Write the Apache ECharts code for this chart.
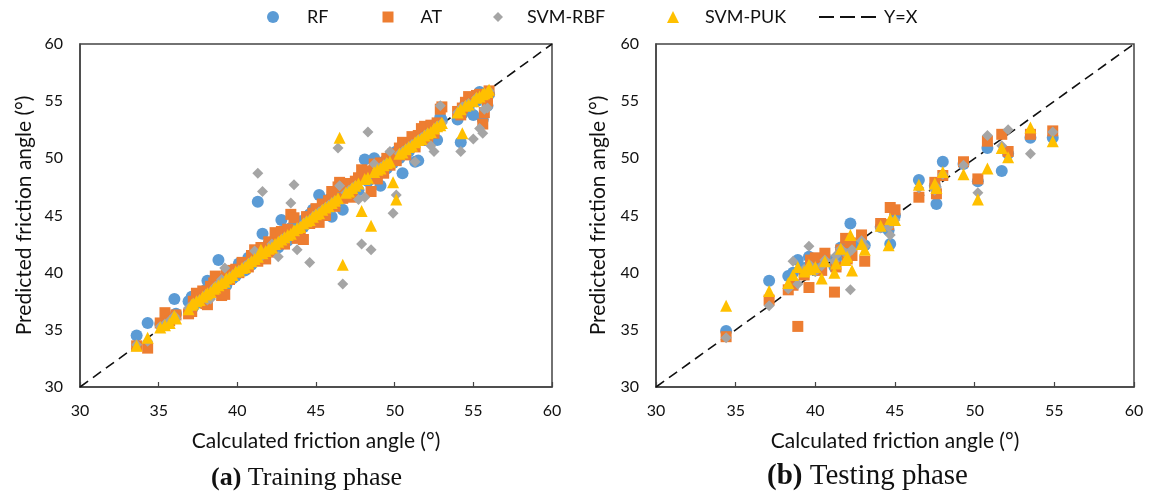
<!DOCTYPE html>
<html>
<head>
<meta charset="utf-8">
<script src="https://cdn.jsdelivr.net/npm/echarts@6/dist/echarts.min.js"></script>
<style>
html,body{margin:0;padding:0;background:#fff;}
#chart{width:1153px;height:497px;}
</style>
</head>
<body>
<div id="chart"></div>
<script>
// ---------- DATA ----------
const seriesNames = ['RF', 'AT', 'SVM-RBF', 'SVM-PUK', 'Y=X'];
const tickLabels = [30, 35, 40, 45, 50, 55, 60];

// Training phase: calculated angle (x) and predictions (y)
const trainCalc = [
 33.6, 34.3, 35.1, 35.4, 35.7, 36.0, 36.1, 36.9, 37.1, 37.2,
 37.4, 37.6, 37.8, 38.0, 38.1, 38.3, 38.5, 38.6, 38.8, 39.0,
 39.2, 39.3, 39.5, 39.7, 39.9, 40.1, 40.3, 40.5, 40.7, 40.9,
 41.1, 41.3, 41.5, 41.6, 41.8, 42.0, 42.2, 42.4, 42.6, 42.8,
 43.0, 43.2, 43.4, 43.6, 43.8, 44.0, 44.2, 44.4, 44.6, 44.8,
 45.0, 45.2, 45.4, 45.6, 45.8, 46.0, 46.2, 46.4, 46.5, 46.7,
 46.9, 47.1, 47.3, 47.5, 47.7, 47.9, 48.1, 48.3, 48.5, 48.7,
 48.9, 49.1, 49.3, 49.5, 49.7, 49.9, 50.1, 50.3, 50.5, 50.7,
 50.9, 51.1, 51.3, 51.5, 51.7, 51.9, 52.1, 52.3, 52.5, 52.7,
 52.9, 53.0, 54.0, 54.2, 54.3, 54.5, 54.7, 55.0, 55.2, 55.4,
 55.6, 55.7, 55.9, 56.0];
const trainRF = [
 34.5, 35.6, 35.5, 35.7, 35.9, 37.7, 36.4, 37.5, 37.9, 37.0,
 37.8, 37.4, 38.2, 38.5, 39.3, 38.6, 38.3, 39.0, 41.1, 39.4,
 39.6, 38.9, 40.0, 39.5, 39.7, 40.8, 40.6, 40.2, 41.3, 40.7,
 41.5, 46.2, 41.9, 43.4, 42.1, 42.6, 41.9, 42.8, 42.2, 44.6,
 43.4, 42.8, 43.9, 43.3, 44.2, 44.5, 44.0, 44.9, 45.1, 45.5,
 44.7, 46.8, 45.2, 46.0, 46.4, 44.9, 46.6, 46.9, 47.0, 45.5,
 47.4, 46.8, 47.6, 47.2, 47.2, 48.4, 49.9, 48.0, 48.9, 50.0,
 48.5, 47.6, 49.7, 49.1, 50.2, 49.6, 50.6, 50.0, 48.7, 51.1,
 50.6, 51.5, 49.7, 49.8, 52.0, 51.6, 52.4, 52.0, 52.9, 51.6,
 53.6, 53.3, 53.4, 51.4, 53.9, 54.8, 54.4, 53.8, 55.0, 55.8,
 53.4, 55.4, 54.6, 55.6];
const trainAT = [
 33.6, 33.4, 35.6, 36.5, 35.8, 36.0, 36.3, 36.4, 36.6, 37.5,
 38.2, 37.9, 38.4, 37.3, 37.2, 38.8, 39.1, 39.7, 38.3, 38.0,
 38.1, 39.8, 39.4, 40.2, 40.3, 40.0, 40.9, 40.4, 40.5, 41.5,
 42.0, 41.0, 42.2, 41.3, 41.2, 42.7, 41.8, 43.5, 42.6, 43.6,
 42.5, 43.8, 45.1, 44.8, 43.0, 43.3, 42.9, 44.9, 44.3, 45.2,
 45.6, 44.4, 46.0, 45.0, 46.3, 47.1, 45.8, 47.5, 47.9, 46.5,
 47.6, 47.8, 46.6, 48.0, 48.3, 49.0, 48.5, 48.9, 47.1, 49.5,
 48.2, 49.6, 48.7, 50.0, 49.4, 50.4, 49.8, 50.9, 51.4, 50.3,
 51.3, 51.9, 51.0, 52.0, 52.6, 52.8, 51.6, 52.9, 52.2, 53.1,
 54.3, 54.5, 54.1, 53.8, 54.4, 54.9, 55.4, 55.3, 55.5, 55.6,
 53.0, 54.0, 55.0, 55.9];
const trainRBF = [
 33.7, 34.0, 35.3, 35.5, 35.8, 36.2, 36.0, 36.9, 37.0, 37.3,
 37.4, 37.6, 37.7, 38.1, 37.6, 37.7, 38.6, 38.8, 39.0, 39.4,
 40.4, 39.2, 39.6, 39.8, 40.0, 40.2, 40.1, 40.6, 40.8, 41.0,
 41.9, 48.7, 41.4, 47.1, 41.8, 42.0, 42.5, 42.3, 41.4, 42.9,
 43.1, 43.0, 46.1, 47.7, 42.0, 44.0, 44.3, 44.5, 40.9, 44.9,
 45.1, 45.3, 45.5, 45.7, 45.9, 46.1, 46.3, 50.9, 47.6, 39.0,
 47.0, 47.2, 47.4, 47.6, 46.4, 42.5, 46.6, 52.3, 42.0, 49.5,
 49.0, 49.2, 49.4, 49.6, 50.6, 45.2, 46.8, 50.4, 50.6, 50.8,
 51.0, 51.2, 49.7, 51.6, 51.8, 52.0, 52.2, 51.1, 50.6, 52.8,
 54.6, 53.1, 54.0, 50.6, 54.5, 54.6, 54.8, 51.7, 55.3, 52.6,
 52.2, 54.3, 54.4, 55.9];
const trainPUK = [
 33.6, 34.3, 35.2, 35.4, 35.6, 36.2, 36.0, 36.8, 37.2, 37.3,
 37.5, 37.6, 37.9, 38.1, 38.2, 38.3, 38.6, 38.7, 38.9, 39.1,
 39.2, 39.5, 39.6, 39.8, 40.1, 40.2, 40.4, 40.5, 40.8, 41.0,
 41.2, 41.4, 42.0, 41.7, 41.9, 42.1, 42.2, 42.5, 42.7, 42.9,
 43.1, 43.3, 43.4, 43.7, 43.9, 44.0, 44.3, 44.5, 44.6, 44.9,
 45.1, 45.2, 45.5, 45.7, 45.8, 46.1, 46.3, 46.5, 51.8, 40.7,
 47.0, 47.1, 47.4, 47.6, 47.8, 45.4, 48.2, 48.3, 44.1, 48.8,
 49.0, 49.1, 49.4, 49.6, 49.7, 47.9, 46.4, 50.4, 50.5, 50.8,
 51.0, 51.1, 51.4, 51.6, 51.7, 52.0, 52.2, 52.3, 52.6, 52.8,
 52.9, 53.1, 54.0, 54.3, 52.2, 54.6, 54.7, 55.0, 55.3, 55.4,
 55.6, 55.7, 55.8, 56.0];

// Testing phase
const testCalc = [34.4, 37.1, 38.3, 38.6, 38.9, 39.3, 39.6, 39.7, 40.0, 40.4, 40.6, 41.2, 41.3, 41.6, 41.9, 42.0, 42.2, 42.3, 42.9, 43.1, 44.1, 44.6, 44.7, 45.0, 46.5, 47.5, 47.6, 48.0, 49.3, 50.2, 50.8, 51.7, 52.1, 53.5, 54.9];
const testRF  = [34.9, 39.3, 39.7, 40.0, 41.1, 40.4, 41.4, 40.3, 40.2, 40.9, 41.4, 40.5, 41.2, 42.2, 41.7, 41.8, 44.3, 42.4, 42.6, 42.4, 44.0, 43.7, 42.5, 45.0, 48.1, 47.6, 46.0, 49.7, 49.5, 48.0, 50.9, 48.9, 50.4, 51.8, 51.8];
const testAT  = [34.4, 37.6, 38.5, 38.9, 35.3, 39.8, 38.7, 41.1, 41.3, 40.2, 41.7, 38.3, 40.5, 42.0, 43.0, 41.2, 42.6, 41.5, 43.3, 41.0, 44.3, 44.2, 45.7, 45.5, 46.6, 47.9, 46.9, 48.5, 49.7, 48.2, 51.5, 52.1, 50.6, 52.1, 52.4];
const testRBF = [34.3, 37.1, 38.6, 41.0, 39.0, 40.3, 42.3, 40.6, 40.1, 40.6, 41.1, 41.0, 41.5, 42.1, 41.7, 41.6, 38.5, 42.0, 42.8, 42.3, 43.9, 44.0, 43.3, 44.6, 47.4, 47.2, 47.5, 48.6, 49.4, 47.0, 52.0, 51.1, 52.5, 50.4, 52.3];
const testPUK = [37.1, 38.4, 39.1, 39.8, 40.5, 40.1, 40.7, 40.3, 40.5, 39.5, 41.0, 40.0, 40.8, 42.1, 41.1, 41.4, 43.3, 40.2, 42.5, 42.0, 44.1, 42.4, 44.7, 44.6, 47.7, 47.8, 47.4, 48.8, 48.6, 46.4, 49.1, 50.9, 50.1, 52.7, 51.5];

const lineEnds = [30, 60];

// ---------- CHART ----------
const FONT = 'Lato';
const colors = {RF:'#5B9BD5', AT:'#ED7D31', 'SVM-RBF':'#A5A5A5', 'SVM-PUK':'#FFC000'};
const symbols = {RF:['circle',12], AT:['rect',11], 'SVM-RBF':['diamond',11], 'SVM-PUK':['triangle',12]};

function pairs(xs, ys){ return xs.map((x,i)=>[x, ys[i]]); }

const grids = [
  {left:80, top:44, width:472, height:343, show:true, borderColor:'#444', borderWidth:1.5, backgroundColor:'transparent'},
  {left:656, top:44, width:478, height:343, show:true, borderColor:'#444', borderWidth:1.5, backgroundColor:'transparent'}
];

function xAxisFor(i){
  return {gridIndex:i, type:'value', min:tickLabels[0], max:tickLabels[tickLabels.length-1], interval:5,
    name:'Calculated friction angle (°)', nameLocation:'middle', nameGap:44,
    nameTextStyle:{fontFamily:FONT, fontSize:21, color:'#111'},
    axisLine:{show:true, lineStyle:{color:'#444', width:1.5}},
    axisTick:{show:true, inside:true, length:5, lineStyle:{color:'#444', width:1.2}},
    axisLabel:{fontFamily:FONT, fontSize:16, color:'#111', margin:16},
    splitLine:{show:false}};
}
function yAxisFor(i){
  return {gridIndex:i, type:'value', min:tickLabels[0], max:tickLabels[tickLabels.length-1], interval:5,
    name:'Predicted friction angle (°)', nameLocation:'middle', nameGap: i===0 ? 45 : 47,
    nameTextStyle:{fontFamily:FONT, fontSize:21, color:'#111'},
    axisLine:{show:true, lineStyle:{color:'#444', width:1.5}},
    axisTick:{show:false},
    axisLabel:{fontFamily:FONT, fontSize:16, color:'#111', margin:17},
    splitLine:{show:false}};
}

const sets = [
  {calc:trainCalc, RF:trainRF, AT:trainAT, 'SVM-RBF':trainRBF, 'SVM-PUK':trainPUK},
  {calc:testCalc, RF:testRF, AT:testAT, 'SVM-RBF':testRBF, 'SVM-PUK':testPUK}
];

const series = [];
sets.forEach((s, gi) => {
  series.push({name:'Y=X', type:'line', xAxisIndex:gi, yAxisIndex:gi, symbol:'none', silent:true,
    itemStyle:{color:'#111'},
    data: pairs(lineEnds, lineEnds), lineStyle:{color:'#111', width:1.6, type:[10,6]}, z:1});
  ['RF','AT','SVM-RBF','SVM-PUK'].forEach((n, k) => {
    series.push({name:n, type:'scatter', xAxisIndex:gi, yAxisIndex:gi,
      symbol:symbols[n][0], symbolSize:symbols[n][1],
      itemStyle:{color:colors[n], opacity:1},
      data: pairs(s.calc, s[n]), z:2+k});
  });
});

// legend geometry: icon left, icon size, extra text offset
const legendCfg = {
  'RF':      {left:262,   w:12, h:12, pad:23},
  'AT':      {left:377.5, w:11, h:11, pad:22},
  'SVM-RBF': {left:488,   w:10, h:10, pad:19},
  'SVM-PUK': {left:662,   w:12, h:12, pad:21},
  'Y=X':     {left:813,   w:60, h:12, pad:0}
};
const legends = seriesNames.map(n => {
  const c = legendCfg[n];
  const lg = {top:3, left:c.left, data:[n], itemWidth:c.w, itemHeight:c.h, itemGap:0,
    textStyle:{fontFamily:FONT, fontSize:18, color:'#111', padding:[0,0,0,c.pad]}};
  if (n === 'Y=X') {
    lg.lineStyle = {color:'#111', width:2, type:[15,6]};
    lg.itemStyle = {color:'rgba(0,0,0,0)', borderWidth:0, opacity:0};
  }
  return lg;
});

const option = {
  animation:false,
  backgroundColor:'#fff',
  grid: grids,
  xAxis: [xAxisFor(0), xAxisFor(1)],
  yAxis: [yAxisFor(0), yAxisFor(1)],
  legend: legends,
  series: series,
  graphic: [
    {type:'text', left:211, top:465, style:{text:'{b|(a)} Training phase', font:'26px "Liberation Serif"', fill:'#111',
      rich:{b:{fontFamily:'Liberation Serif', fontWeight:'bold', fontSize:26, fill:'#111'}}}},
    {type:'text', left:767, top:462, style:{text:'{b|(b)} Testing phase', font:'29px "Liberation Serif"', fill:'#111',
      rich:{b:{fontFamily:'Liberation Serif', fontWeight:'bold', fontSize:29, fill:'#111'}}}}
  ]
};

const chart = echarts.init(document.getElementById('chart'), null, {renderer:'canvas'});
chart.setOption(option);
</script>
</body>
</html>
